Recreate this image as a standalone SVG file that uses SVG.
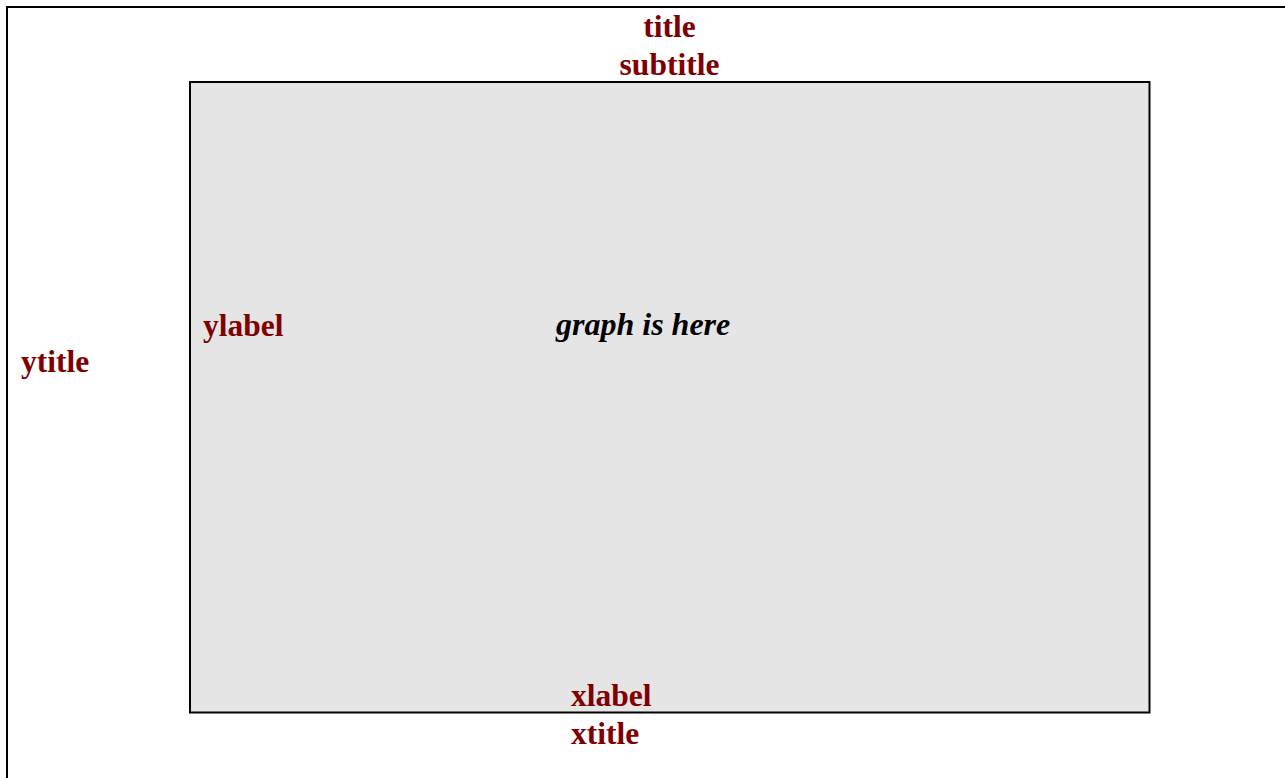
<svg xmlns="http://www.w3.org/2000/svg" width="1285" height="778" viewBox="0 0 1285 778">
  <style>
    .frame { fill: #ffffff; stroke: #000000; stroke-width: 2; }
    .plot { fill: #e5e5e5; stroke: #000000; stroke-width: 2; }
    .lbl { font-family: "Liberation Serif", "Times New Roman", serif; font-weight: bold; font-size: 31.5px; fill: #800000; }
    .note { font-family: "Liberation Serif", "Times New Roman", serif; font-weight: bold; font-style: italic; font-size: 32px; fill: #000000; }
  </style>
  <rect x="0" y="0" width="1285" height="778" fill="#ffffff"/>
  <!-- outer page frame, continues past the right and bottom edges -->
  <g id="page">
    <rect class="frame" x="7" y="7" width="1290" height="790"/>
  </g>
  <!-- plotting area -->
  <g id="plot-area">
    <rect class="plot" x="190" y="82" width="959.5" height="630.5"/>
    <text class="note" x="556" y="335">graph is here</text>
  </g>
  <g id="title">
    <text class="lbl" x="669.5" y="37" text-anchor="middle">title</text>
  </g>
  <g id="subtitle">
    <text class="lbl" x="669.5" y="75" text-anchor="middle">subtitle</text>
  </g>
  <g id="ylabel">
    <text class="lbl" x="203" y="336">ylabel</text>
  </g>
  <g id="ytitle">
    <text class="lbl" x="21" y="372">ytitle</text>
  </g>
  <g id="xlabel">
    <text class="lbl" x="571" y="706">xlabel</text>
  </g>
  <g id="xtitle">
    <text class="lbl" x="571" y="744">xtitle</text>
  </g>
  <g id="connectors"></g>
</svg>
